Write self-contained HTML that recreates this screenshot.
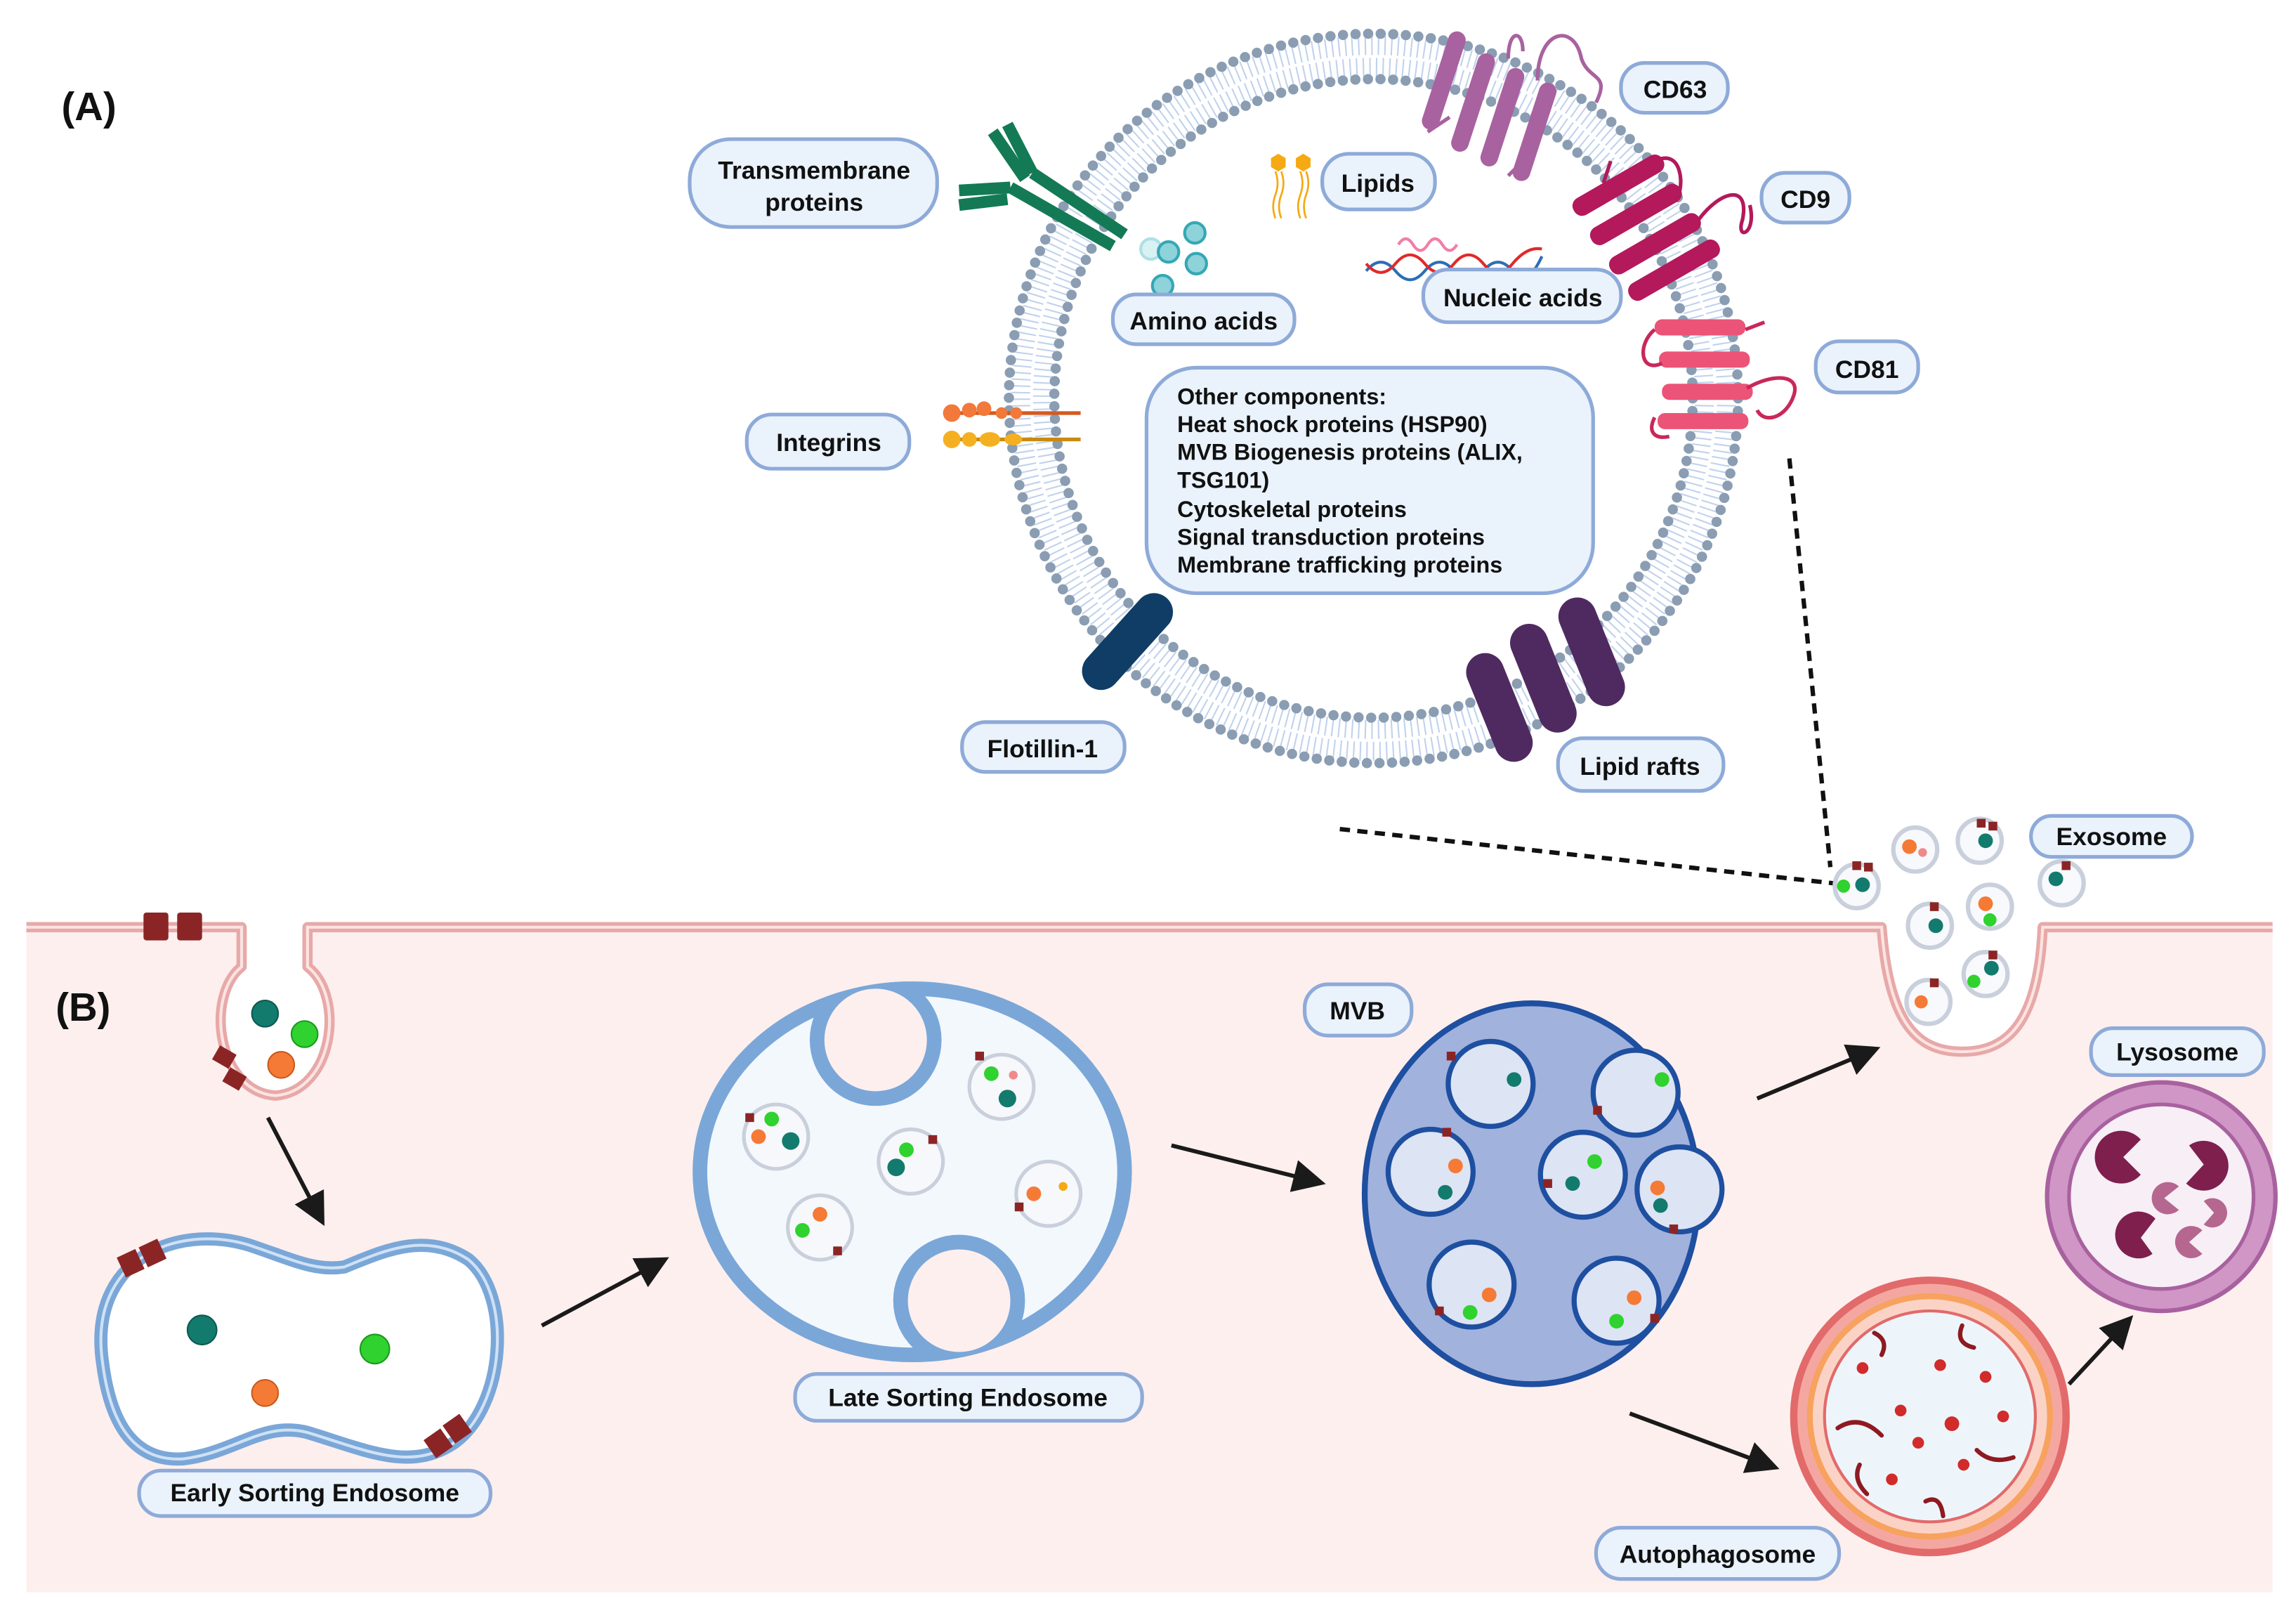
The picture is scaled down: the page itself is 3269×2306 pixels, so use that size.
<!DOCTYPE html>
<html><head><meta charset="utf-8"><style>
html,body{margin:0;padding:0;background:#fff;}
svg{display:block;}
text{font-family:"Liberation Sans",Arial,sans-serif;font-weight:bold;fill:#111;}
</style></head><body>
<svg width="3269" height="2306" viewBox="0 0 1568 1106" preserveAspectRatio="none" xmlns="http://www.w3.org/2000/svg">
<defs>
<marker id="ar" markerWidth="8" markerHeight="8" refX="6" refY="4" orient="auto" markerUnits="strokeWidth">
<path d="M0,0 L8,4 L0,8 z" fill="#1a1a1a"/></marker>
<clipPath id="lse"><ellipse cx="623" cy="800" rx="150" ry="130"/></clipPath>
</defs>
<rect width="1568" height="1106" fill="#fff"/>

<rect x="18" y="633" width="1534" height="454" fill="#fdefee"/>
<path d="M165,633 L165,660 C140,680 148,745 188,748 C228,745 236,680 210,660 L210,633 Z" fill="#fff"/>
<path d="M1285,633 C1290,700 1310,718 1340,718 C1370,718 1392,700 1395,633 Z" fill="#fff"/>
<g fill="none" stroke="#e7a9a8" stroke-width="7" stroke-linejoin="round">
<path d="M18,633 L165,633 L165,660 C140,680 148,745 188,748 C228,745 236,680 210,660 L210,633 L1285,633 C1290,700 1310,718 1340,718 C1370,718 1392,700 1395,633 L1552,633"/>
</g>
<g fill="none" stroke="#fbe4e3" stroke-width="2">
<path d="M18,633 L165,633 L165,660 C140,680 148,745 188,748 C228,745 236,680 210,660 L210,633 L1285,633 C1290,700 1310,718 1340,718 C1370,718 1392,700 1395,633 L1552,633"/>
</g>
<rect x="98" y="623" width="17" height="19" rx="2" fill="#8b2525"/><rect x="121" y="623" width="17" height="19" rx="2" fill="#8b2525"/>
<circle cx="181" cy="692" r="9" fill="#137a6e" stroke="#0b5a50"/>
<circle cx="208" cy="706" r="9" fill="#2fd22f" stroke="#1a9a1a"/>
<circle cx="192" cy="727" r="9" fill="#f57a35" stroke="#c95a1f"/>
<rect x="147" y="716" width="13" height="11" fill="#8b2525" transform="rotate(30 153 721)"/>
<rect x="154" y="731" width="13" height="11" fill="#8b2525" transform="rotate(30 160 736)"/>

<g fill="none">
<circle cx="938" cy="272" r="241" stroke="#c0d2ec" stroke-width="13" stroke-dasharray="1 3.5"/>
<circle cx="938" cy="272" r="226" stroke="#c0d2ec" stroke-width="13" stroke-dasharray="1 3.5"/>
<circle cx="938" cy="272" r="249" stroke="#8a9db2" stroke-width="7" stroke-dasharray="0 8.6" stroke-linecap="round"/>
<circle cx="938" cy="272" r="218" stroke="#8a9db2" stroke-width="7" stroke-dasharray="0 8.6" stroke-linecap="round"/>
</g>

<g fill="#a8629f">
<rect x="980" y="20" width="12" height="70" rx="6" transform="rotate(18 986 55)"/>
<rect x="1000" y="35" width="12" height="70" rx="6" transform="rotate(18 1006 70)"/>
<rect x="1020" y="45" width="12" height="70" rx="6" transform="rotate(18 1026 80)"/>
<rect x="1042" y="55" width="12" height="70" rx="6" transform="rotate(18 1048 90)"/>
</g>
<path d="M1050,55 C1050,20 1075,15 1080,40 C1085,55 1100,50 1090,70 M1030,40 C1030,20 1040,20 1040,35 M975,90 L990,80 M1030,120 L1040,110" stroke="#a8629f" stroke-width="2.5" fill="none"/>
<g fill="#b3195b">
<rect x="1070" y="120" width="70" height="13" rx="6" transform="rotate(-30 1105 126)"/>
<rect x="1082" y="140" width="70" height="13" rx="6" transform="rotate(-30 1117 146)"/>
<rect x="1095" y="160" width="70" height="13" rx="6" transform="rotate(-30 1130 166)"/>
<rect x="1108" y="178" width="70" height="13" rx="6" transform="rotate(-30 1143 184)"/>
</g>
<path d="M1130,110 C1150,100 1150,130 1145,135 M1160,150 C1175,130 1195,125 1190,150 C1185,165 1200,160 1195,140 M1100,110 L1095,125" stroke="#b3195b" stroke-width="2.5" fill="none"/>
<g fill="#eb5477">
<rect x="1130" y="218" width="62" height="11" rx="5"/>
<rect x="1133" y="240" width="62" height="11" rx="5"/>
<rect x="1135" y="262" width="62" height="11" rx="5"/>
<rect x="1132" y="282" width="62" height="11" rx="5"/>
</g>
<path d="M1130,225 C1118,235 1120,255 1135,248 M1193,265 C1210,255 1230,255 1225,270 C1220,285 1205,290 1200,280 M1130,285 C1125,295 1130,300 1140,298 M1192,225 L1205,220" stroke="#c8285a" stroke-width="2.5" fill="none"/>

<g stroke="#137a55" stroke-width="8" stroke-linecap="butt" fill="none">
<line x1="768" y1="160" x2="705" y2="118"/>
<line x1="760" y1="168" x2="690" y2="128"/>
<line x1="705" y1="118" x2="688" y2="85"/>
<line x1="700" y1="122" x2="678" y2="90"/>
<line x1="690" y1="128" x2="655" y2="130"/>
<line x1="688" y1="136" x2="655" y2="140"/>
</g>
<line x1="655" y1="282" x2="738" y2="282" stroke="#d45a20" stroke-width="2.5"/>
<line x1="655" y1="300" x2="738" y2="300" stroke="#c88a10" stroke-width="2.5"/>
<g fill="#f2793a"><circle cx="650" cy="282" r="6"/><circle cx="662" cy="280" r="5"/><circle cx="672" cy="279" r="5"/><circle cx="684" cy="282" r="4"/><circle cx="694" cy="282" r="4"/></g>
<g fill="#f5b021"><circle cx="650" cy="300" r="6"/><circle cx="662" cy="300" r="5"/><ellipse cx="676" cy="300" rx="7" ry="5"/><ellipse cx="692" cy="300" rx="6" ry="4"/></g>
<rect x="730" y="425" width="80" height="26" rx="13" fill="#0f3d66" transform="rotate(-48 770 438)"/>
<g fill="#4f2a60">
<rect x="985" y="470" width="78" height="26" rx="13" transform="rotate(68 1024 483)"/>
<rect x="1015" y="450" width="78" height="26" rx="13" transform="rotate(68 1054 463)"/>
<rect x="1048" y="432" width="78" height="26" rx="13" transform="rotate(68 1087 445)"/>
</g>
<g fill="#f5a912"><polygon points="868,108 873,105 878,108 878,114 873,117 868,114"/><polygon points="885,108 890,105 895,108 895,114 890,117 885,114"/></g>
<path d="M871,117 q3,8 0,16 q-3,8 0,16 M875,117 q3,8 0,16 q-3,8 0,16 M888,117 q3,8 0,16 q-3,8 0,16 M892,117 q3,8 0,16 q-3,8 0,16" stroke="#f5a912" stroke-width="1.3" fill="none"/>
<g fill="#8fd3da" stroke="#35a8b4" stroke-width="2">
<circle cx="786" cy="170" r="7" fill="#d8f1f3" stroke="#aee0e4"/><circle cx="798" cy="172" r="7"/><circle cx="816" cy="159" r="7"/><circle cx="817" cy="180" r="7"/><circle cx="794" cy="195" r="7"/>
</g>
<path d="M955,167 q5,-8 10,0 q5,8 10,0 q5,-8 10,0 q5,8 10,0" stroke="#ef7fa8" stroke-width="2" fill="none"/>
<path d="M933,185 q10,-12 20,0 t20,0 t20,0 t20,0 t20,0 t20,-10" stroke="#2b6fb5" stroke-width="2" fill="none"/>
<path d="M933,180 q10,12 20,0 t20,0 t20,0 t20,0 t20,0 t20,-10" stroke="#e02a2a" stroke-width="2" fill="none"/>

<g fill="#eaf2fc" stroke="#8eaad8" stroke-width="2.5">
<rect x="471" y="95" width="169" height="60" rx="28"/>
<rect x="903" y="105" width="77" height="38" rx="18"/>
<rect x="1107" y="43" width="73" height="34" rx="16"/>
<rect x="1203" y="118" width="60" height="34" rx="16"/>
<rect x="760" y="201" width="124" height="34" rx="16"/>
<rect x="972" y="184" width="135" height="36" rx="17"/>
<rect x="1240" y="233" width="70" height="35" rx="16"/>
<rect x="510" y="283" width="111" height="37" rx="17"/>
<rect x="783" y="251" width="305" height="154" rx="34"/>
<rect x="657" y="493" width="111" height="34" rx="16"/>
<rect x="1064" y="504" width="113" height="36" rx="17"/>
<rect x="1387" y="557" width="110" height="28" rx="14"/>
<rect x="891" y="672" width="73" height="35" rx="16"/>
<rect x="1428" y="702" width="118" height="32" rx="15"/>
<rect x="543" y="938" width="237" height="32" rx="15"/>
<rect x="95" y="1004" width="240" height="31" rx="15"/>
<rect x="1090" y="1043" width="166" height="35" rx="17"/>
</g>
<g font-size="17" text-anchor="middle">
<text x="556" y="122">Transmembrane</text><text x="556" y="144">proteins</text>
<text x="941" y="131">Lipids</text>
<text x="1144" y="67">CD63</text>
<text x="1233" y="142">CD9</text>
<text x="822" y="225">Amino acids</text>
<text x="1040" y="209">Nucleic acids</text>
<text x="1275" y="258">CD81</text>
<text x="566" y="308">Integrins</text>
<text x="712" y="517">Flotillin-1</text>
<text x="1120" y="529">Lipid rafts</text>
<text x="1442" y="577">Exosome</text>
<text x="927" y="696">MVB</text>
<text x="1487" y="724">Lysosome</text>
<text x="661" y="960">Late Sorting Endosome</text>
<text x="215" y="1025">Early Sorting Endosome</text>
<text x="1173" y="1067">Autophagosome</text>
</g>
<g font-size="15.5">
<text x="804" y="276">Other components:</text>
<text x="804" y="295">Heat shock proteins (HSP90)</text>
<text x="804" y="314">MVB Biogenesis proteins (ALIX,</text>
<text x="804" y="333">TSG101)</text>
<text x="804" y="353">Cytoskeletal proteins</text>
<text x="804" y="372">Signal transduction proteins</text>
<text x="804" y="391">Membrane trafficking proteins</text>
</g>
<text x="42" y="82" font-size="27">(A)</text>
<text x="38" y="697" font-size="27">(B)</text>

<g stroke="#111" stroke-width="3" stroke-dasharray="7 5">
<line x1="915" y1="566" x2="1252" y2="603"/>
<line x1="1222" y1="313" x2="1250" y2="592"/>
</g>

<g fill="#f7f9fc" stroke="#c9d0dc" stroke-width="3">
<circle cx="1268" cy="605" r="15"/><circle cx="1308" cy="580" r="15"/><circle cx="1352" cy="574" r="15"/>
<circle cx="1408" cy="603" r="15"/><circle cx="1318" cy="632" r="15"/><circle cx="1359" cy="619" r="15"/>
<circle cx="1356" cy="665" r="15"/><circle cx="1317" cy="684" r="15"/>
</g>
<g>
<circle cx="1259" cy="605" r="4.5" fill="#2fd22f"/><circle cx="1272" cy="604" r="5" fill="#137a6e"/>
<circle cx="1304" cy="578" r="5" fill="#f57a35"/><circle cx="1313" cy="582" r="3" fill="#f08a8a"/>
<circle cx="1356" cy="574" r="5" fill="#137a6e"/><circle cx="1404" cy="600" r="5" fill="#137a6e"/>
<circle cx="1322" cy="632" r="5" fill="#137a6e"/><circle cx="1356" cy="617" r="5" fill="#f57a35"/><circle cx="1359" cy="628" r="4.5" fill="#2fd22f"/>
<circle cx="1348" cy="670" r="4.5" fill="#2fd22f"/><circle cx="1360" cy="661" r="5" fill="#137a6e"/>
<circle cx="1312" cy="684" r="4.5" fill="#f57a35"/>
</g>
<g fill="#8b2525">
<rect x="1265" y="588" width="6" height="6"/><rect x="1273" y="589" width="6" height="6"/>
<rect x="1350" y="559" width="6" height="6"/><rect x="1358" y="561" width="6" height="6"/>
<rect x="1318" y="616" width="6" height="6"/><rect x="1358" y="649" width="6" height="6"/>
<rect x="1408" y="588" width="6" height="6"/><rect x="1318" y="668" width="6" height="6"/>
</g>

<g stroke="#1a1a1a" stroke-width="2.8" marker-end="url(#ar)">
<line x1="183" y1="763" x2="219" y2="832"/>
<line x1="370" y1="905" x2="452" y2="861"/>
<line x1="800" y1="782" x2="900" y2="807"/>
<line x1="1200" y1="750" x2="1279" y2="717"/>
<line x1="1113" y1="965" x2="1210" y2="1001"/>
<line x1="1413" y1="945" x2="1453" y2="902"/>
</g>

<path d="M70,930 C60,860 120,835 170,850 C200,860 215,868 235,865 C260,855 290,840 320,860 C350,885 345,960 310,985 C280,1005 250,990 210,978 C180,970 160,992 125,996 C90,998 75,970 70,930 Z" fill="#fff" stroke="#7aa7d8" stroke-width="9"/>
<path d="M70,930 C60,860 120,835 170,850 C200,860 215,868 235,865 C260,855 290,840 320,860 C350,885 345,960 310,985 C280,1005 250,990 210,978 C180,970 160,992 125,996 C90,998 75,970 70,930 Z" fill="none" stroke="#cfe1f5" stroke-width="2"/>
<circle cx="138" cy="908" r="10" fill="#137a6e" stroke="#0b5a50"/>
<circle cx="256" cy="921" r="10" fill="#2fd22f" stroke="#1a9a1a"/>
<circle cx="181" cy="951" r="9" fill="#f57a35" stroke="#c95a1f"/>
<g fill="#8b2525"><rect x="82" y="855" width="14" height="15" transform="rotate(-25 89 862)"/><rect x="97" y="848" width="14" height="15" transform="rotate(-25 104 855)"/>
<rect x="292" y="978" width="14" height="15" transform="rotate(-35 299 985)"/><rect x="305" y="968" width="14" height="15" transform="rotate(-35 312 975)"/></g>

<ellipse cx="623" cy="800" rx="145" ry="125" fill="#f3f8fd" stroke="#7aa7d8" stroke-width="10"/>
<g clip-path="url(#lse)">
<circle cx="598" cy="710" r="40" fill="#fdefee" stroke="#7aa7d8" stroke-width="10"/>
<circle cx="655" cy="888" r="40" fill="#fdefee" stroke="#7aa7d8" stroke-width="10"/>
</g>
<g fill="#f6f8fb" stroke="#c9d0dc" stroke-width="2.5">
<circle cx="530" cy="776" r="22"/><circle cx="622" cy="793" r="22"/><circle cx="684" cy="742" r="22"/><circle cx="560" cy="838" r="22"/><circle cx="716" cy="815" r="22"/>
</g>
<g>
<circle cx="518" cy="776" r="5" fill="#f57a35"/><circle cx="540" cy="779" r="6" fill="#137a6e"/><circle cx="527" cy="764" r="5" fill="#2fd22f"/>
<circle cx="619" cy="785" r="5" fill="#2fd22f"/><circle cx="612" cy="797" r="6" fill="#137a6e"/>
<circle cx="677" cy="733" r="5" fill="#2fd22f"/><circle cx="688" cy="750" r="6" fill="#137a6e"/><circle cx="692" cy="734" r="3" fill="#f08a8a"/>
<circle cx="560" cy="829" r="5" fill="#f57a35"/><circle cx="548" cy="840" r="5" fill="#2fd22f"/>
<circle cx="706" cy="815" r="5" fill="#f57a35"/><circle cx="726" cy="810" r="3" fill="#f5a912"/>
</g>
<g fill="#8b2525"><rect x="509" y="760" width="6" height="6"/><rect x="634" y="775" width="6" height="6"/><rect x="569" y="851" width="6" height="6"/><rect x="693" y="821" width="6" height="6"/><rect x="666" y="718" width="6" height="6"/></g>

<ellipse cx="1046" cy="815" rx="114" ry="130" fill="#a1b2dd" stroke="#1e4fa0" stroke-width="4"/>
<g fill="#dde4f4" stroke="#1e4fa0" stroke-width="3.5">
<circle cx="1018" cy="740" r="29"/><circle cx="1117" cy="746" r="29"/><circle cx="977" cy="800" r="29"/>
<circle cx="1081" cy="802" r="29"/><circle cx="1147" cy="812" r="29"/><circle cx="1005" cy="877" r="29"/><circle cx="1104" cy="888" r="29"/>
</g>
<g>
<circle cx="1034" cy="737" r="5" fill="#137a6e"/><circle cx="1135" cy="737" r="5" fill="#2fd22f"/><circle cx="994" cy="796" r="5" fill="#f57a35"/><circle cx="987" cy="814" r="5" fill="#137a6e"/>
<circle cx="1089" cy="793" r="5" fill="#2fd22f"/><circle cx="1074" cy="808" r="5" fill="#137a6e"/><circle cx="1132" cy="811" r="5" fill="#f57a35"/><circle cx="1134" cy="823" r="5" fill="#137a6e"/>
<circle cx="1017" cy="884" r="5" fill="#f57a35"/><circle cx="1004" cy="896" r="5" fill="#2fd22f"/><circle cx="1116" cy="886" r="5" fill="#f57a35"/><circle cx="1104" cy="902" r="5" fill="#2fd22f"/>
</g>
<g fill="#8b2525"><rect x="988" y="718" width="6" height="6"/><rect x="1088" y="755" width="6" height="6"/><rect x="985" y="770" width="6" height="6"/><rect x="1054" y="805" width="6" height="6"/><rect x="1140" y="836" width="6" height="6"/><rect x="980" y="892" width="6" height="6"/><rect x="1127" y="897" width="6" height="6"/></g>

<circle cx="1318" cy="967" r="93" fill="#f4a7a0" stroke="#e26a6a" stroke-width="5"/>
<circle cx="1318" cy="967" r="82" fill="#fbd3c6" stroke="#f7a25e" stroke-width="4"/>
<circle cx="1318" cy="967" r="72" fill="#eef5fa" stroke="#e26a6a" stroke-width="2"/>
<g fill="#d12b2b">
<circle cx="1272" cy="934" r="4"/><circle cx="1325" cy="932" r="4"/><circle cx="1298" cy="963" r="4"/><circle cx="1333" cy="972" r="5"/>
<circle cx="1368" cy="967" r="4"/><circle cx="1310" cy="985" r="4"/><circle cx="1341" cy="1000" r="4"/><circle cx="1292" cy="1010" r="4"/><circle cx="1356" cy="940" r="4"/>
</g>
<path d="M1280,910 q10,5 5,15 M1340,905 q-5,12 8,15 M1255,975 q15,-10 30,5 M1350,990 q10,10 25,5 M1315,1025 q10,-5 12,10 M1270,1000 q-5,10 5,20" stroke="#8e1a22" stroke-width="3" fill="none" stroke-linecap="round"/>

<circle cx="1476" cy="817" r="78" fill="#cf96c6" stroke="#a8619f" stroke-width="3"/>
<circle cx="1476" cy="817" r="63" fill="#f7eef6" stroke="#a8619f" stroke-width="2.5"/>
<g fill="#7e1f4e">
<path d="M1450,790 L1462,778 A18,18 0 1 0 1462,802 Z"/>
<path d="M1505,795 L1495,782 A17,17 0 1 1 1493,808 Z"/>
<path d="M1462,845 L1472,832 A16,16 0 1 0 1470,856 Z"/>
</g>
<g fill="#b5678f">
<path d="M1478,818 L1488,810 A11,11 0 1 0 1488,826 Z"/>
<path d="M1512,828 L1505,820 A10,10 0 1 1 1505,836 Z"/>
<path d="M1495,848 L1504,840 A11,11 0 1 0 1504,856 Z"/>
</g>
</svg>
</body></html>
